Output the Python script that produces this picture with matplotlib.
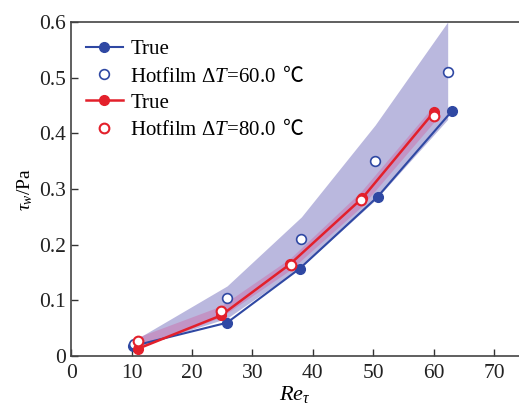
import numpy as np
from matplotlib import pyplot as plt

plt.rcParams['font.family'] = ['Liberation Serif', 'Noto Sans CJK SC', 'DejaVu Sans']
plt.rcParams['mathtext.fontset'] = 'custom'
plt.rcParams['mathtext.rm'] = 'Liberation Serif'
plt.rcParams['mathtext.it'] = 'Liberation Serif:italic'
plt.rcParams['mathtext.sf'] = 'Noto Sans CJK SC'

# blue series (dT = 60)
re_true60 = [10.2, 25.8, 37.8, 50.7, 63.0]
tau_true60 = [0.018, 0.060, 0.157, 0.286, 0.440]
re_hf60 = [10.4, 25.8, 38.1, 50.3, 62.3]
tau_hf60 = [0.022, 0.104, 0.210, 0.350, 0.510]
band60_lo = [0.015, 0.068, 0.160, 0.280, 0.425]
band60_hi = [0.028, 0.126, 0.250, 0.415, 0.600]

# red series (dT = 80)
re_true80 = [11.0, 24.8, 36.2, 48.2, 60.0]
tau_true80 = [0.013, 0.073, 0.165, 0.284, 0.438]
re_hf80 = [11.0, 24.8, 36.3, 48.0, 60.0]
tau_hf80 = [0.028, 0.081, 0.164, 0.280, 0.431]
band80_lo = [0.014, 0.070, 0.155, 0.268, 0.420]
band80_hi = [0.034, 0.090, 0.176, 0.296, 0.450]

blue = '#2f48a3'
red = '#e3202b'

fig = plt.figure(figsize=(5.19, 4.07), dpi=100)
ax = fig.add_axes([0.137, 0.125, 0.863, 0.821])

ax.fill_between(re_hf60, band60_lo, band60_hi, color='#a9a6d6', alpha=0.8, lw=0)
ax.fill_between(re_hf80, band80_lo, band80_hi, color='#cf5fa0', alpha=0.4, lw=0)

ax.plot(re_true60, tau_true60, '-o', color=blue, lw=1.5, ms=7, label='True', zorder=3)
ax.plot(re_hf60, tau_hf60, 'o', color=blue, mfc='white', mew=1.2, ms=7,
        label=r'Hotfilm $\Delta T$=60.0 $\,\mathsf{℃}$', zorder=4)
ax.plot(re_true80, tau_true80, '-o', color=red, lw=1.8, ms=7, label='True', zorder=5)
ax.plot(re_hf80, tau_hf80, 'o', color=red, mfc='white', mew=1.5, ms=7,
        label=r'Hotfilm $\Delta T$=80.0 $\,\mathsf{℃}$', zorder=6)

ax.set_xlim(0, 74.1)
ax.set_ylim(0, 0.6)
ax.set_xticks([0, 10, 20, 30, 40, 50, 60, 70])
ax.set_yticks([0, 0.1, 0.2, 0.3, 0.4, 0.5, 0.6])
ax.set_yticklabels(['0', '0.1', '0.2', '0.3', '0.4', '0.5', '0.6'])
ax.tick_params(direction='in', labelsize=15.5, length=5, width=1, colors='#333333')
ax.tick_params(axis='x', pad=6)
ax.tick_params(labelcolor='#222222')
for s in ['left', 'bottom', 'top']:
    ax.spines[s].set_color('#444444')
    ax.spines[s].set_linewidth(1.2)
ax.spines['right'].set_visible(False)

ax.set_xlabel(r'$Re_\tau$', fontsize=16, labelpad=0.5)
ax.set_ylabel(r'$\tau_w$/Pa', fontsize=14, labelpad=3)

ax.legend(loc='upper left', frameon=False, fontsize=15, handlelength=1.8,
          borderaxespad=0.3, labelspacing=0.3, handletextpad=0.35,
          bbox_to_anchor=(0.0, 0.99))

fig.savefig('out.png', dpi=100)
